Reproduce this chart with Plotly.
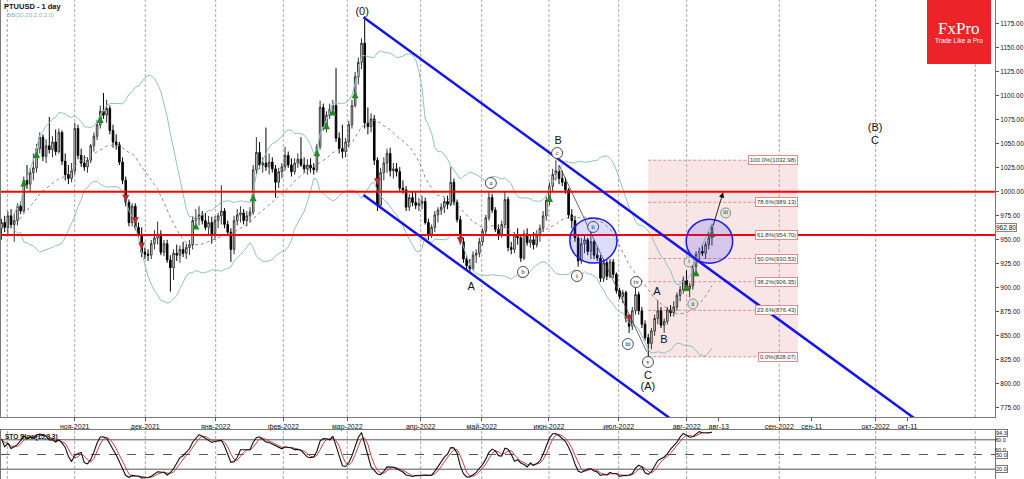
import pandas as pd
import plotly.graph_objects as go

# ---------------- data ----------------
opens = [
    962, 968, 963, 975, 966, 970, 985, 980, 1012, 1008,
    1020, 1025, 1045, 1057, 1037, 1048, 1044, 1052, 1042, 1062,
    1032, 1018, 1014, 1022, 1066, 1038, 1030, 1026, 1033, 1048,
    1058, 1070, 1084, 1080, 1087, 1064, 1052, 1049, 1031, 1012,
    989, 968, 985, 963, 955, 937, 935, 934, 946, 952,
    956, 937, 946, 929, 921, 936, 934, 940, 936, 942,
    945, 970, 972, 976, 970, 963, 968, 956, 970, 975,
    980, 966, 958, 940, 970, 976, 978, 970, 975, 979,
    1023, 1041, 1028, 1030, 1026, 1031, 1024, 1010, 1021, 1026,
    1038, 1028, 1021, 1030, 1034, 1028, 1024, 1028, 1025, 1023,
    1047, 1088, 1068, 1080, 1086, 1090, 1056, 1045, 1042, 1052,
    1070, 1090, 1120, 1135, 1155, 1072, 1068, 1076, 1033, 986,
    1020, 1030, 1040, 1022, 1024, 1021, 1004, 1002, 984, 994,
    989, 986, 988, 990, 968, 956, 963, 976, 981, 984,
    990, 987, 1010, 989, 971, 948, 930, 923, 920, 934,
    936, 948, 959, 973, 994, 981, 961, 956, 966, 992,
    942, 940, 955, 952, 931, 956, 947, 950, 945, 955,
    962, 975, 991, 1006, 1018, 1022, 1014, 1010, 1002, 976,
    970, 952, 928, 946, 950, 938, 948, 934, 931, 910,
    926, 912, 927, 914, 897, 891, 895, 868, 860, 876,
    893, 876, 862, 848, 842, 855, 868, 876, 861, 865,
    877, 874, 880, 892, 898, 908, 899, 902, 922, 935,
    938, 936, 945, 952,
]
highs = [
    972, 975, 980, 982, 978, 988, 990, 1016, 1028, 1025,
    1040, 1050, 1062, 1060, 1055, 1078, 1058, 1065, 1066, 1064,
    1040, 1028, 1030, 1072, 1070, 1045, 1038, 1036, 1050, 1062,
    1075, 1090, 1103, 1096, 1090, 1070, 1060, 1052, 1036, 1016,
    992, 988, 988, 968, 963, 942, 940, 950, 960, 969,
    960, 950, 950, 934, 940, 945, 944, 948, 946, 950,
    975, 982, 985, 980, 978, 975, 974, 975, 978, 1007,
    983, 970, 962, 975, 982, 985, 982, 980, 984, 1028,
    1057, 1052, 1036, 1067, 1040, 1036, 1028, 1025, 1030, 1047,
    1042, 1035, 1035, 1040, 1057, 1036, 1034, 1035, 1030, 1050,
    1095, 1092, 1084, 1092, 1096, 1129, 1062, 1070, 1056, 1074,
    1096, 1125, 1140, 1160, 1183, 1088, 1082, 1080, 1036, 1025,
    1036, 1045, 1046, 1030, 1030, 1026, 1012, 1006, 998, 1000,
    1000, 994, 996, 994, 972, 966, 980, 984, 988, 994,
    996, 1026, 1014, 992, 975, 952, 934, 930, 938, 940,
    952, 962, 976, 1000, 998, 984, 966, 970, 1000, 995,
    948, 958, 962, 955, 960, 962, 956, 958, 960, 966,
    980, 995, 1010, 1024, 1033, 1028, 1022, 1015, 1004, 982,
    975, 954, 952, 954, 952, 958, 950, 942, 934, 930,
    929, 930, 930, 916, 900, 898, 897, 872, 880, 900,
    896, 880, 866, 852, 858, 872, 887, 880, 868, 880,
    882, 886, 895, 902, 912, 918, 905, 925, 938, 942,
    945, 948, 958, 966,
]
lows = [
    950, 958, 955, 962, 948, 965, 977, 978, 1003, 1000,
    1012, 1020, 1040, 1032, 1030, 1040, 1036, 1038, 1040, 1028,
    1012, 1008, 1010, 1018, 1034, 1026, 1022, 1020, 1030, 1042,
    1054, 1066, 1076, 1072, 1060, 1046, 1044, 1028, 1008, 985,
    964, 964, 960, 952, 932, 930, 928, 930, 940, 945,
    934, 933, 926, 896, 908, 928, 926, 932, 930, 934,
    940, 962, 965, 966, 960, 955, 946, 950, 962, 966,
    962, 955, 927, 935, 965, 968, 966, 964, 968, 976,
    1018, 1024, 1020, 1022, 1018, 1020, 994, 1004, 1014, 1022,
    1025, 1016, 1018, 1025, 1026, 1020, 1018, 1020, 1018, 1020,
    1044, 1064, 1062, 1076, 1080, 1052, 1040, 1035, 1036, 1046,
    1066, 1088, 1112, 1128, 1066, 1060, 1062, 1028, 980, 982,
    1012, 1020, 1016, 1014, 1016, 1000, 998, 980, 980, 985,
    982, 980, 982, 966, 950, 952, 958, 968, 976, 978,
    982, 985, 986, 968, 945, 926, 918, 915, 918, 926,
    932, 944, 955, 970, 978, 958, 950, 952, 962, 938,
    935, 936, 945, 927, 929, 944, 942, 940, 942, 948,
    958, 970, 986, 1000, 1012, 1008, 1006, 998, 972, 962,
    948, 922, 925, 936, 934, 930, 930, 928, 906, 906,
    908, 910, 910, 894, 888, 884, 864, 853, 856, 872,
    872, 858, 845, 828, 836, 850, 862, 858, 853, 862,
    870, 870, 876, 886, 894, 897, 890, 898, 918, 928,
    933, 930, 940, 944,
]
closes = [
    968, 963, 975, 966, 970, 985, 980, 1012, 1008, 1020,
    1025, 1045, 1057, 1037, 1048, 1044, 1052, 1042, 1062, 1032,
    1018, 1014, 1022, 1066, 1038, 1030, 1026, 1033, 1048, 1058,
    1070, 1084, 1080, 1087, 1064, 1052, 1049, 1031, 1012, 989,
    968, 985, 963, 955, 937, 935, 934, 946, 952, 956,
    937, 946, 929, 921, 936, 934, 940, 936, 942, 945,
    970, 972, 976, 970, 963, 968, 956, 970, 975, 980,
    966, 958, 940, 970, 976, 978, 970, 975, 979, 1023,
    1041, 1028, 1030, 1026, 1031, 1024, 1010, 1021, 1026, 1038,
    1028, 1021, 1030, 1034, 1028, 1024, 1028, 1025, 1023, 1047,
    1088, 1068, 1080, 1086, 1090, 1056, 1045, 1042, 1052, 1070,
    1090, 1120, 1135, 1155, 1072, 1068, 1076, 1033, 986, 1020,
    1030, 1040, 1022, 1024, 1021, 1004, 1002, 984, 994, 989,
    986, 988, 990, 968, 956, 963, 976, 981, 984, 990,
    987, 1010, 989, 971, 948, 930, 923, 920, 934, 936,
    948, 959, 973, 994, 981, 961, 956, 966, 992, 942,
    940, 955, 952, 931, 956, 947, 950, 945, 955, 962,
    975, 991, 1006, 1018, 1022, 1014, 1010, 1002, 976, 970,
    952, 928, 946, 950, 938, 948, 934, 931, 910, 926,
    912, 927, 914, 897, 891, 895, 868, 860, 876, 893,
    876, 862, 848, 842, 855, 868, 876, 861, 865, 877,
    874, 880, 892, 898, 908, 899, 902, 922, 935, 938,
    936, 945, 952, 962.8,
]
bars = list(range(len(closes)))

# time axis (bar index of period starts / labels)
grid_bars = [1.82, 22.97, 45.13, 67.23, 88.45, 108.53, 131.57, 150.72,
             171.84, 193.72, 215.06, 244.13, 274.38, 305.65]
tick_bars = [22.97, 45.13, 67.23, 88.45, 108.53, 131.57, 150.72, 171.84,
             193.72, 215.06, 225.1, 244.13, 254.3, 274.38, 284.4]
tick_labels = ["ноя-2021", "дек-2021", "янв-2022", "фев-2022", "мар-2022",
               "апр-2022", "май-2022", "июн-2022", "июл-2022", "авг-2022",
               "авг-13", "сен-2022", "сен-11", "окт-2022", "окт-11"]
x_range = [-0.16, 311.84]
price_ticks = [775, 800, 825, 850, 875, 900, 925, 950, 975, 1000,
               1025, 1050, 1075, 1100, 1125, 1150, 1175]
price_range = [765.3, 1200.0]
last_price = 962.80
last_price_text = "962.80"

# analysis drawings
resistance_levels = [1000.0, 955.0]
channel_upper_bars = [113.6, 286.5]
channel_upper_prices = [1182.0, 764.0]
channel_lower_bars = [113.6, 209.8]
channel_lower_prices = [996.7, 764.0]
wave_line_bars = [175.3, 202.5]
wave_line_prices = [1026.0, 833.4]
target_arrow_bars = [223.2, 226.5]
target_arrow_prices = [963.0, 999.5]

fib_bars = [203, 250]
fib_levels = [1032.98, 989.13, 954.70, 930.53, 906.35, 876.43, 828.07]
fib_texts = ["100.0%(1032.98)", "78.6%(989.13)", "61.8%(954.70)", "50.0%(930.53)",
             "38.2%(906.35)", "23.6%(876.43)", "0.0%(828.07)"]

ellipse_bars = [(178.4, 193.2), (214.9, 229.5)]
ellipse_prices = [(925.8, 972.8), (925.6, 971.5)]

green_bars = [7, 11, 31, 61, 79, 99, 102, 104, 111, 172, 215, 218, 223]
green_prices = [1013, 1042.6, 1079, 968, 997.5, 1044.4, 1072.5, 1087, 1105,
                996.7, 904, 919.3, 960.3]
red_bars = [39, 42, 44, 118, 144, 197]
red_prices = [989.7, 966.5, 940, 1007, 945.7, 864.6]

plain_labels = ["(0)", "B", "A", "C", "(A)", "A", "B", "(B)", "C"]
plain_bars = [113.2, 174.7, 147.4, 202.9, 202.9, 205.7, 207.9, 274.2, 274.2]
plain_prices = [1187.5, 1053, 900.8, 808, 796.6, 895.6, 845.6, 1066.6, 1053]

circ_labels = ["c", "a", "b", "i", "ii", "iii", "iv", "v"]
circ_bars = [174.4, 153.6, 163.7, 180.6, 185.7, 196.6, 199.2, 202.9]
circ_prices = [1040.5, 1009.2, 916.5, 912.3, 963.4, 841.4, 906.0, 822.6]

gcirc_labels = ["i", "ii", "iii"]
gcirc_bars = [215.8, 217.0, 227.3]
gcirc_prices = [926.9, 883.1, 978.0]

sto_levels = [80, 50, 20]
sto_labels = ["94.3", "80.0", "60.0", "50.0", "20.0"]
sto_label_vals = [94.3, 80, 60, 50, 20]
sto_label_boxed = [True, False, False, True, True]

# ---------------- indicators ----------------
c = pd.Series(closes, dtype=float)
h = pd.Series(highs, dtype=float)
l = pd.Series(lows, dtype=float)
bb_mid = c.rolling(20, min_periods=5).mean()
bb_sd = c.rolling(20, min_periods=5).std(ddof=0)
bb_up = bb_mid + 2 * bb_sd
bb_dn = bb_mid - 2 * bb_sd

hh = h.rolling(15, min_periods=1).max()
ll = l.rolling(15, min_periods=1).min()
sto_k = 100 * (c - ll).rolling(3, min_periods=1).sum() / (hh - ll).rolling(3, min_periods=1).sum()
sto_d = sto_k.rolling(3, min_periods=1).mean()

# ---------------- figure ----------------
W, H = 1024, 479
ML, MR = 1, 29
PW = W - ML - MR


def px_x(px):
    return (px - ML) / PW


def px_y(py):
    return 1 - py / H


FONT = "Liberation Sans, Arial, sans-serif"
fig = go.Figure()

# Bollinger bands
fig.add_trace(go.Scatter(x=bars, y=bb_up, mode="lines", line=dict(color="#8fc2c2", width=1),
                         hoverinfo="skip", showlegend=False))
fig.add_trace(go.Scatter(x=bars, y=bb_dn, mode="lines", line=dict(color="#8fc2c2", width=1),
                         hoverinfo="skip", showlegend=False))
fig.add_trace(go.Scatter(x=bars, y=bb_mid, mode="lines", line=dict(color="#8a8a8a", width=1, dash="dot"),
                         hoverinfo="skip", showlegend=False))

# candles
fig.add_trace(go.Candlestick(
    x=bars, open=opens, high=highs, low=lows, close=closes,
    increasing=dict(line=dict(color="#333333", width=1), fillcolor="#ffffff"),
    decreasing=dict(line=dict(color="#000000", width=1), fillcolor="#000000"),
    whiskerwidth=0, showlegend=False, hoverinfo="skip"))

# arrows (signals)
fig.add_trace(go.Scatter(x=green_bars, y=green_prices, mode="markers",
                         marker=dict(symbol="arrow-up", size=7, color="#1e8c1e"),
                         hoverinfo="skip", showlegend=False))
fig.add_trace(go.Scatter(x=red_bars, y=red_prices, mode="markers",
                         marker=dict(symbol="arrow-down", size=7, color="#c0282b"),
                         hoverinfo="skip", showlegend=False))

# resistance lines
for lvl in resistance_levels:
    fig.add_trace(go.Scatter(x=x_range, y=[lvl, lvl], mode="lines",
                             line=dict(color="#ff0000", width=2), hoverinfo="skip", showlegend=False))

# channel lines
fig.add_trace(go.Scatter(x=channel_upper_bars, y=channel_upper_prices, mode="lines",
                         line=dict(color="#1414ee", width=2.5), hoverinfo="skip", showlegend=False))
fig.add_trace(go.Scatter(x=channel_lower_bars, y=channel_lower_prices, mode="lines",
                         line=dict(color="#1414ee", width=2.5), hoverinfo="skip", showlegend=False))
fig.add_trace(go.Scatter(x=wave_line_bars, y=wave_line_prices, mode="lines",
                         line=dict(color="#444444", width=0.8), hoverinfo="skip", showlegend=False))

# circled wave labels
fig.add_trace(go.Scatter(x=circ_bars, y=circ_prices, mode="markers+text", text=circ_labels,
                         textposition="middle center",
                         textfont=dict(size=6.5, family="Liberation Serif, serif", color="#111"),
                         marker=dict(symbol="circle", size=11, color="white",
                                     line=dict(color="#222", width=0.8)),
                         hoverinfo="skip", showlegend=False))
fig.add_trace(go.Scatter(x=gcirc_bars, y=gcirc_prices, mode="markers+text", text=gcirc_labels,
                         textposition="middle center",
                         textfont=dict(size=6, family="Liberation Serif, serif", color="#333"),
                         marker=dict(symbol="circle", size=10, color="#e4e4e4",
                                     line=dict(color="#777", width=0.8)),
                         hoverinfo="skip", showlegend=False))
fig.add_trace(go.Scatter(x=plain_bars, y=plain_prices, mode="text", text=plain_labels,
                         textposition="middle center",
                         textfont=dict(size=11, family=FONT, color="#111"),
                         hoverinfo="skip", showlegend=False))

# stochastic
fig.add_trace(go.Scatter(x=bars, y=sto_d, mode="lines", line=dict(color="#c84040", width=1),
                         xaxis="x2", yaxis="y2", hoverinfo="skip", showlegend=False))
fig.add_trace(go.Scatter(x=bars, y=sto_k, mode="lines", line=dict(color="#111111", width=1.1),
                         xaxis="x2", yaxis="y2", hoverinfo="skip", showlegend=False))

shapes = []
# vertical grid
for g in grid_bars:
    for yr in ("y domain", "y2 domain"):
        shapes.append(dict(type="line", xref="x" if yr == "y domain" else "x2", yref=yr,
                           x0=g, x1=g, y0=0, y1=1, layer="below",
                           line=dict(color="#a8a8a8", width=1, dash="3px,2px")))
# fib box and levels
shapes.append(dict(type="rect", xref="x", yref="y", x0=fib_bars[0], x1=fib_bars[1],
                   y0=fib_levels[-1], y1=fib_levels[0], layer="below",
                   fillcolor="rgba(230,160,160,0.28)", line=dict(width=0)))
for lv in fib_levels:
    shapes.append(dict(type="line", xref="x", yref="y", x0=fib_bars[0], x1=fib_bars[1],
                       y0=lv, y1=lv, layer="below",
                       line=dict(color="#e08c8c", width=1, dash="3px,2px")))
# ellipses
for (xa, xb), (ya, yb) in zip(ellipse_bars, ellipse_prices):
    shapes.append(dict(type="circle", xref="x", yref="y", x0=xa, x1=xb, y0=ya, y1=yb,
                       layer="above", fillcolor="rgba(60,60,255,0.18)",
                       line=dict(color="#1a1aee", width=1.5)))
# stochastic levels
for lv in sto_levels:
    shapes.append(dict(type="line", xref="x2 domain", yref="y2", x0=0, x1=1, y0=lv, y1=lv,
                       layer="below",
                       line=dict(color="#555555", width=1, dash="dash" if lv == 50 else "solid")))
# FxPro logo
shapes.append(dict(type="rect", xref="paper", yref="paper", x0=px_x(927), x1=px_x(991),
                   y0=px_y(64), y1=px_y(0), fillcolor="#ec2428", line=dict(width=0), layer="above"))

annotations = []
for lv, txt in zip(fib_levels, fib_texts):
    annotations.append(dict(x=fib_bars[1], y=lv, xref="x", yref="y", xanchor="right", yanchor="middle",
                            text=txt, showarrow=False,
                            font=dict(size=6, family=FONT, color="#333"),
                            bgcolor="white", bordercolor="#e08c8c", borderwidth=1, borderpad=1))
annotations.append(dict(x=target_arrow_bars[1], y=target_arrow_prices[1], ax=target_arrow_bars[0],
                        ay=target_arrow_prices[0], xref="x", yref="y", axref="x", ayref="y",
                        text="", showarrow=True, arrowhead=2, arrowsize=1.2, arrowwidth=0.9,
                        arrowcolor="#111"))
annotations.append(dict(x=1.0, y=last_price, xref="paper", yref="y", xanchor="left", yanchor="middle",
                        text=last_price_text, showarrow=False,
                        font=dict(size=6.5, family=FONT, color="#111"),
                        bgcolor="white", bordercolor="#888", borderwidth=1, borderpad=0))
annotations.append(dict(x=px_x(2), y=px_y(6), xref="paper", yref="paper", xanchor="left",
                        yanchor="middle", text="<b>PTUUSD - 1 day</b>", showarrow=False,
                        font=dict(size=7.5, family=FONT, color="#111")))
annotations.append(dict(x=px_x(5), y=px_y(15.5), xref="paper", yref="paper", xanchor="left",
                        yanchor="middle", text="BB(20,20,2.0,2.0)", showarrow=False,
                        font=dict(size=6, family=FONT, color="#86b6b6")))
annotations.append(dict(x=px_x(959), y=px_y(29), xref="paper", yref="paper", xanchor="center",
                        yanchor="middle", text="FxPro", showarrow=False,
                        font=dict(size=17, family="Liberation Serif, serif", color="white")))
annotations.append(dict(x=px_x(959), y=px_y(41), xref="paper", yref="paper", xanchor="center",
                        yanchor="middle", text="Trade Like a Pro", showarrow=False,
                        font=dict(size=6.5, family=FONT, color="white")))
annotations.append(dict(x=px_x(3), y=px_y(437), xref="paper", yref="paper", xanchor="left",
                        yanchor="middle", text="<b>STO Slow(15,3,3)</b>", showarrow=False,
                        font=dict(size=6.5, family=FONT, color="#111")))
for txt, v, boxed in zip(sto_labels, sto_label_vals, sto_label_boxed):
    annotations.append(dict(x=1.0, y=v, xref="paper", yref="y2", xanchor="left", yanchor="middle",
                            text=txt, showarrow=False, font=dict(size=5.5, family=FONT, color="#111"),
                            bgcolor="white" if boxed else None,
                            bordercolor="#777" if boxed else None,
                            borderwidth=1 if boxed else 0, borderpad=0))

fig.update_layout(
    width=W, height=H, template="none",
    margin=dict(l=ML, r=MR, t=0, b=0, pad=0),
    paper_bgcolor="white", plot_bgcolor="white",
    showlegend=False, hovermode=False,
    shapes=shapes, annotations=annotations,
    xaxis=dict(domain=[0, 1], range=x_range, anchor="y", tickvals=tick_bars, ticktext=tick_labels,
               ticks="outside", ticklen=3, tickcolor="#555", tickwidth=1,
               tickfont=dict(size=7, family=FONT, color="#111"),
               showgrid=False, zeroline=False, showline=True, linecolor="#777", mirror=True,
               rangeslider=dict(visible=False), automargin=False, fixedrange=True),
    yaxis=dict(domain=[px_y(417), 1], range=price_range, side="right", anchor="x",
               tickvals=price_ticks, ticktext=[f"{v:.2f}" for v in price_ticks],
               ticks="outside", ticklen=3, tickcolor="#555",
               tickfont=dict(size=6.5, family=FONT, color="#111"),
               showgrid=False, zeroline=False, showline=True, linecolor="#777", mirror=True,
               automargin=False, fixedrange=True),
    xaxis2=dict(domain=[0, 1], range=x_range, anchor="y2", showticklabels=False, ticks="",
                showgrid=False, zeroline=False, showline=True, linecolor="#777", mirror=True,
                automargin=False),
    yaxis2=dict(domain=[0, px_y(430)], range=[0, 100], side="right", anchor="x2",
                showticklabels=False, ticks="", showgrid=False, zeroline=False,
                showline=True, linecolor="#777", mirror=True, automargin=False),
)

fig.write_html("out.html", config={"displayModeBar": False})

# remove the browser's default page margin so the figure sits at the window origin
with open("out.html", "r", encoding="utf-8") as fh:
    page = fh.read()
page = page.replace("<head>", "<head><style>html,body{margin:0;padding:0;overflow:hidden;}</style>", 1)
with open("out.html", "w", encoding="utf-8") as fh:
    fh.write(page)
